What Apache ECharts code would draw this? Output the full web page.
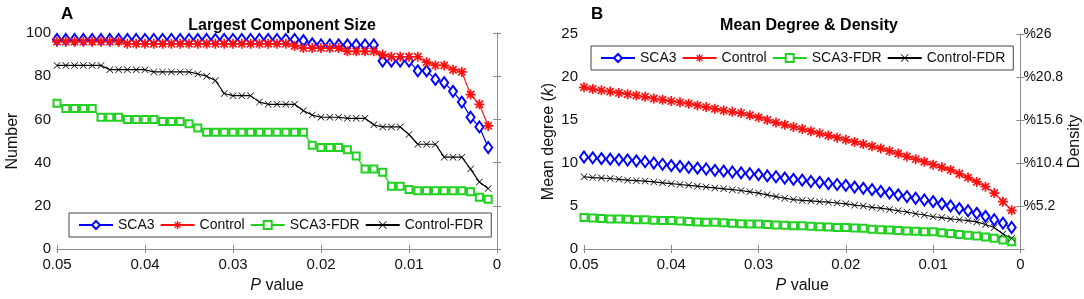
<!DOCTYPE html>
<html>
<head>
<meta charset="utf-8">
<script src="https://cdn.jsdelivr.net/npm/echarts@6/dist/echarts.min.js"></script>
<style>
  html, body { margin: 0; padding: 0; background: #fff; }
  #chart { width: 1084px; height: 299px; }
</style>
</head>
<body>
<div id="chart"></div>
<script>
// P value thresholds (x axis, reversed)
var pValues = [0.05, 0.049, 0.048, 0.047, 0.046, 0.045, 0.044, 0.043, 0.042, 0.041,
    0.04, 0.039, 0.038, 0.037, 0.036, 0.035, 0.034, 0.033, 0.032, 0.031,
    0.03, 0.029, 0.028, 0.027, 0.026, 0.025, 0.024, 0.023, 0.022, 0.021,
    0.02, 0.019, 0.018, 0.017, 0.016, 0.015, 0.014, 0.013, 0.012, 0.011,
    0.01, 0.009, 0.008, 0.007, 0.006, 0.005, 0.004, 0.003, 0.002, 0.001];

var seriesNames = ['SCA3', 'Control', 'SCA3-FDR', 'Control-FDR'];

// panel A: largest component size
var sizeSCA3 = [97, 97, 97, 97, 97, 97, 97, 97, 97, 97,
    97, 97, 97, 97, 97, 97, 97, 97, 97, 97,
    97, 97, 97, 97, 97, 97, 97, 97, 96.5, 95,
    94.5, 94.5, 94.5, 94.5, 94.5, 94.5, 94.5, 87, 87, 87,
    87, 82.5, 82.5, 78.5, 77, 73, 68, 61, 56.5, 47];
var sizeControl = [96, 96, 96, 96, 96, 96, 96, 96, 95, 95,
    95, 95, 95, 95, 95, 95, 95, 95, 95, 95,
    95, 95, 95, 95, 95, 95, 95, 94, 93, 93,
    93, 93, 93, 91.5, 91.5, 91.5, 91.5, 90, 89, 89,
    89, 89, 86.5, 85, 85, 83, 82, 71.5, 67, 57];
var sizeSCA3FDR = [67.5, 65, 65, 65, 65, 61, 61, 61, 60, 60,
    60, 60, 59, 59, 59, 58, 56, 54, 54, 54,
    54, 54, 54, 54, 54, 54, 54, 54, 54, 48,
    47, 47, 47, 46, 43, 37, 37, 35.5, 29, 29,
    27.5, 27, 27, 27, 27, 27, 27, 26.5, 24, 23];
var sizeControlFDR = [85, 85, 85, 85, 85, 85, 83, 83, 83, 83,
    83, 82, 82, 82, 82, 82, 81, 80, 78, 72,
    71, 71, 71, 68, 67, 67, 67, 67, 64, 62,
    61, 61, 61, 60.5, 60.5, 60.5, 57.5, 56.5, 56.5, 56.5,
    53, 48.5, 48.5, 48.5, 42.5, 42.5, 42.5, 37, 31, 28];

// panel B: mean degree
var degSCA3 = [10.7, 10.6, 10.5, 10.45, 10.4, 10.35, 10.25, 10.15, 10.0, 9.85,
    9.7, 9.6, 9.5, 9.4, 9.3, 9.15, 9.05, 8.95, 8.85, 8.75,
    8.65, 8.5, 8.4, 8.25, 8.1, 8.0, 7.85, 7.75, 7.6, 7.5,
    7.4, 7.2, 7.05, 6.9, 6.7, 6.5, 6.3, 6.1, 5.9, 5.7,
    5.5, 5.25, 5.0, 4.7, 4.45, 4.15, 3.8, 3.4, 3.0, 2.5];
var degControl = [18.8, 18.6, 18.45, 18.3, 18.15, 18.0, 17.85, 17.7, 17.5, 17.35,
    17.2, 17.05, 16.9, 16.7, 16.5, 16.3, 16.1, 15.95, 15.8, 15.55,
    15.3, 15.0, 14.7, 14.45, 14.2, 13.95, 13.7, 13.45, 13.2, 12.95,
    12.7, 12.45, 12.2, 11.95, 11.7, 11.4, 11.1, 10.75, 10.45, 10.15,
    9.8, 9.5, 9.2, 8.75, 8.3, 7.8, 7.25, 6.5, 5.5, 4.5];
var degSCA3FDR = [3.65, 3.6, 3.55, 3.5, 3.5, 3.45, 3.4, 3.4, 3.35, 3.3,
    3.3, 3.25, 3.2, 3.15, 3.1, 3.1, 3.05, 3.0, 2.95, 2.9,
    2.9, 2.85, 2.8, 2.75, 2.7, 2.7, 2.65, 2.6, 2.55, 2.5,
    2.5, 2.45, 2.4, 2.3, 2.25, 2.2, 2.15, 2.1, 2.05, 2.0,
    2.0, 1.9, 1.8, 1.7, 1.6, 1.5, 1.4, 1.25, 1.05, 0.85];
var degControlFDR = [8.4, 8.3, 8.25, 8.2, 8.1, 8.0, 7.95, 7.9, 7.8, 7.7,
    7.6, 7.5, 7.4, 7.3, 7.2, 7.1, 7.0, 6.9, 6.8, 6.65,
    6.5, 6.3, 6.1, 5.9, 5.75, 5.65, 5.6, 5.5, 5.45, 5.35,
    5.25, 5.1, 5.0, 4.85, 4.75, 4.6, 4.45, 4.3, 4.1, 3.95,
    3.75, 3.65, 3.5, 3.4, 3.3, 3.15, 2.85, 2.5, 1.75, 1.25];

var FONT = 'Liberation Sans, Arial, sans-serif';
var AXIS_GRAY = '#8c8c8c';

// matlab style markers
var STAR = 'path://M0 8.3L20 8.3L20 11.7L0 11.7Z M8.3 0L11.7 0L11.7 20L8.3 20Z M1.6 4L4 1.6L18.4 16L16 18.4Z M16 1.6L18.4 4L4 18.4L1.6 16Z';
var CROSS = 'path://M0 1.4L1.4 0L20 18.6L18.6 20Z M18.6 0L20 1.4L1.4 20L0 18.6Z';

var styles = [
    { color: '#0000ff', symbol: 'emptyDiamond', symbolSize: [8, 11] },
    { color: '#ff1010', symbol: STAR, symbolSize: 10 },
    { color: '#22d022', symbol: 'emptyRect', symbolSize: 7 },
    { color: '#000000', symbol: CROSS, symbolSize: 7 }
];

function pairs(vals) {
    var out = [];
    for (var i = 0; i < vals.length; i++) {
        out.push([pValues[i], vals[i]]);
    }
    return out;
}

function makeSeries(idx, vals, axisIdx) {
    var s = styles[idx];
    return {
        name: seriesNames[idx],
        type: 'line',
        xAxisIndex: axisIdx,
        yAxisIndex: axisIdx,
        symbol: s.symbol,
        symbolSize: s.symbolSize,
        showAllSymbol: true,
        itemStyle: { color: s.color, borderWidth: 1 },
        lineStyle: { color: s.color, width: 1.2 },
        animation: false,
        data: pairs(vals)
    };
}

function xAxisPair(grid) {
    var base = {
        gridIndex: grid,
        type: 'value',
        min: 0,
        max: 0.05,
        interval: 0.01,
        inverse: true,
        splitLine: { show: false },
        axisLine: { lineStyle: { color: AXIS_GRAY } },
        axisTick: { inside: true, length: 4, lineStyle: { color: AXIS_GRAY } }
    };
    var bottom = Object.assign({}, base, {
        position: 'bottom',
        name: '{i|P} value',
        nameLocation: 'middle',
        nameGap: 29,
        nameTextStyle: {
            color: '#111', fontSize: 16, fontFamily: FONT,
            rich: { i: { fontStyle: 'italic', fontSize: 16, fontFamily: FONT, color: '#111' } }
        },
        axisLabel: {
            color: '#111', fontSize: 15, fontFamily: FONT, margin: 8,
            formatter: function(v) { return String(+v.toFixed(2)); }
        }
    });
    var top = Object.assign({}, base, {
        position: 'top',
        axisLabel: { show: false }
    });
    return [bottom, top];
}

var chart = echarts.init(document.getElementById('chart'));
chart.setOption({
    animation: false,
    title: [{
        text: 'A', left: 56, top: 1,
        textStyle: { fontSize: 17, fontWeight: 'bold', color: '#000', fontFamily: FONT }
    }, {
        text: 'Largest Component Size', left: 277, top: 13, textAlign: 'center',
        textStyle: { fontSize: 16, fontWeight: 'bold', color: '#000', fontFamily: FONT }
    }, {
        text: 'B', left: 586, top: 1,
        textStyle: { fontSize: 17, fontWeight: 'bold', color: '#000', fontFamily: FONT }
    }, {
        text: 'Mean Degree & Density', left: 804, top: 13, textAlign: 'center',
        textStyle: { fontSize: 16, fontWeight: 'bold', color: '#000', fontFamily: FONT }
    }],
    legend: [{
        data: seriesNames,
        left: 69, top: 213,
        padding: [5, 8, 5, 9],
        itemGap: 5,
        itemWidth: 34,
        itemHeight: 10,
        borderColor: '#444',
        borderWidth: 1,
        backgroundColor: '#fff',
        textStyle: { fontSize: 14, color: '#111', fontFamily: FONT }
    }, {
        data: seriesNames,
        left: 591, top: 46,
        padding: [5, 8, 5, 9],
        itemGap: 5,
        itemWidth: 34,
        itemHeight: 10,
        borderColor: '#444',
        borderWidth: 1,
        backgroundColor: '#fff',
        textStyle: { fontSize: 14, color: '#111', fontFamily: FONT }
    }],
    grid: [
        { left: 57, top: 33, width: 440, height: 217 },
        { left: 584, top: 34, width: 440, height: 215 }
    ],
    xAxis: xAxisPair(0).concat(xAxisPair(1)),
    yAxis: [{
        gridIndex: 0,
        type: 'value', min: 0, max: 100, interval: 20,
        position: 'left',
        name: 'Number',
        nameLocation: 'middle',
        nameGap: 36,
        nameTextStyle: { color: '#111', fontSize: 16, fontFamily: FONT },
        splitLine: { show: false },
        axisLine: { show: true, lineStyle: { color: AXIS_GRAY } },
        axisTick: { show: true, inside: true, length: 4, lineStyle: { color: AXIS_GRAY } },
        axisLabel: { color: '#111', fontSize: 15, fontFamily: FONT, margin: 6 }
    }, {
        gridIndex: 0,
        type: 'value', min: 0, max: 100, interval: 20,
        position: 'right',
        splitLine: { show: false },
        axisLine: { show: true, lineStyle: { color: AXIS_GRAY } },
        axisTick: { show: true, inside: true, length: 4, lineStyle: { color: AXIS_GRAY } },
        axisLabel: { show: false }
    }, {
        gridIndex: 1,
        type: 'value', min: 0, max: 25, interval: 5,
        position: 'left',
        name: 'Mean degree ({i|k})',
        nameLocation: 'middle',
        nameGap: 27,
        nameTextStyle: {
            color: '#111', fontSize: 16, fontFamily: FONT,
            rich: { i: { fontStyle: 'italic', fontSize: 16, fontFamily: FONT, color: '#111' } }
        },
        splitLine: { show: false },
        axisLine: { show: true, lineStyle: { color: AXIS_GRAY } },
        axisTick: { show: true, inside: true, length: 4, lineStyle: { color: AXIS_GRAY } },
        axisLabel: { color: '#111', fontSize: 15, fontFamily: FONT, margin: 6 }
    }, {
        gridIndex: 1,
        type: 'value', min: 0, max: 26, interval: 5.2,
        position: 'right',
        name: 'Density',
        nameLocation: 'middle',
        nameGap: 40,
        nameRotate: 90,
        nameTextStyle: { color: '#111', fontSize: 16, fontFamily: FONT },
        splitLine: { show: false },
        axisLine: { show: true, lineStyle: { color: AXIS_GRAY } },
        axisTick: { show: true, inside: true, length: 4, lineStyle: { color: AXIS_GRAY } },
        axisLabel: {
            color: '#111', fontSize: 14, fontFamily: FONT, margin: 3,
            formatter: function(v) { return v === 0 ? '' : '%' + (+v.toFixed(1)); }
        }
    }],
    series: [
        makeSeries(0, sizeSCA3, 0),
        makeSeries(1, sizeControl, 0),
        makeSeries(2, sizeSCA3FDR, 0),
        makeSeries(3, sizeControlFDR, 0),
        makeSeries(0, degSCA3, 2),
        makeSeries(1, degControl, 2),
        makeSeries(2, degSCA3FDR, 2),
        makeSeries(3, degControlFDR, 2)
    ]
});
</script>
</body>
</html>
